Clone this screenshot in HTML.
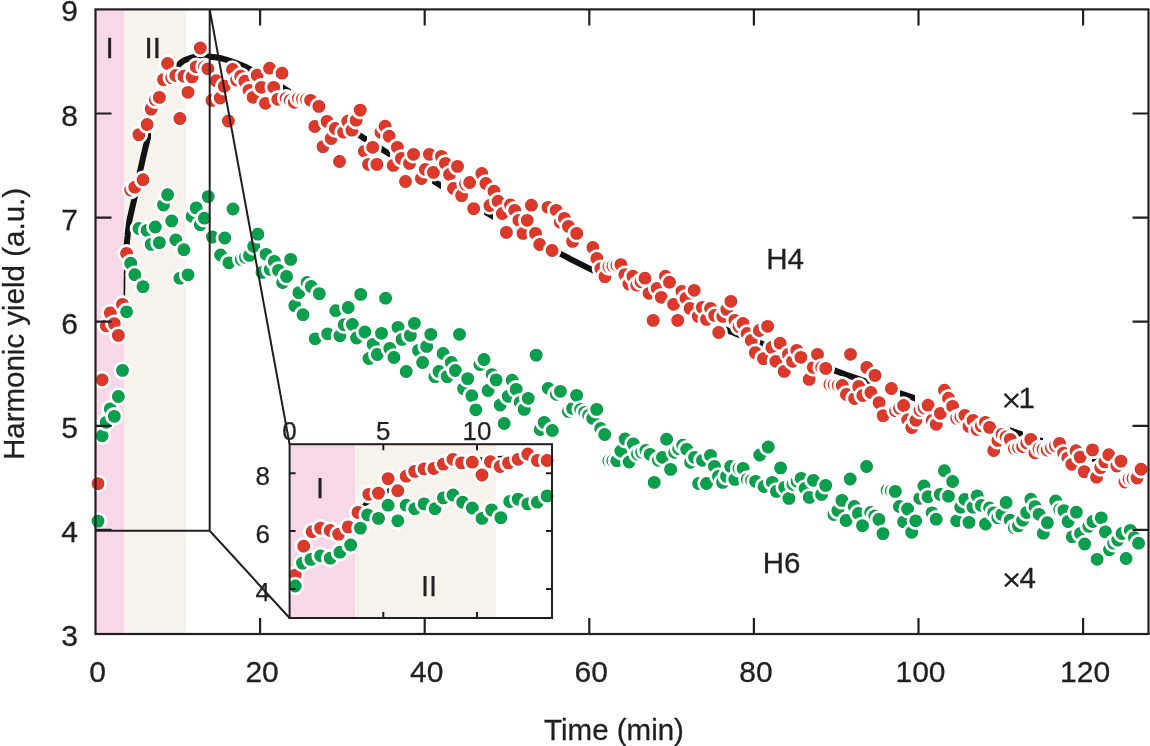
<!DOCTYPE html>
<html><head><meta charset="utf-8"><style>
html,body{margin:0;padding:0;background:#fff;overflow:hidden;}
svg{display:block;will-change:transform;}
</style></head><body>
<svg width="1150" height="746" viewBox="0 0 1150 746">
<rect x="95.5" y="9.4" width="28.799999999999997" height="624.6" fill="#f7d8e8"/><rect x="124.3" y="9.4" width="61.7" height="624.6" fill="#f7f2eb"/><clipPath id="cc"><rect x="123" y="0" width="28" height="245"/><rect x="174" y="0" width="82" height="746"/><rect x="283" y="0" width="8" height="746"/><rect x="357" y="0" width="10" height="746"/><rect x="381" y="0" width="9" height="746"/><rect x="432" y="0" width="9" height="746"/><rect x="484" y="0" width="9" height="746"/><rect x="555" y="0" width="38" height="746"/><rect x="726" y="0" width="14" height="746"/><rect x="759" y="0" width="8" height="746"/><rect x="833" y="0" width="38" height="746"/><rect x="900" y="0" width="15" height="746"/><rect x="1010" y="0" width="13" height="746"/><rect x="1040" y="0" width="3" height="746"/><rect x="1092" y="0" width="6" height="746"/></clipPath><clipPath id="cc2"><rect x="110" y="245" width="20" height="60"/></clipPath><path d="M124.3,302.0 L124.3,300.0 L124.3,297.3 L124.4,294.0 L124.4,290.5 L124.5,287.1 L124.5,284.0 L124.5,281.3 L124.6,278.8 L124.6,276.4 L124.6,273.9 L124.7,271.1 L124.9,268.0 L125.1,264.4 L125.4,260.3 L125.8,256.0 L126.1,251.6 L126.5,247.3 L126.9,243.3 L127.2,239.5 L127.6,235.8 L127.9,232.3 L128.3,228.7 L128.8,225.2 L129.3,221.6 L129.9,218.1 L130.7,214.6 L131.5,211.2 L132.3,207.7 L133.2,203.9 L134.1,199.9 L135.0,195.6 L135.9,191.0 L136.9,186.3 L137.9,181.4 L138.9,176.3 L140.1,171.0 L141.4,165.3 L142.8,159.0 L144.3,152.6 L145.8,146.3 L147.3,140.5 L148.6,135.5 L149.8,131.6 L150.8,128.7 L151.7,126.2 L152.7,123.8 L153.8,121.2 L155.2,117.8 L156.8,113.7 L158.6,109.1 L160.6,104.1 L162.6,99.1 L164.6,94.2 L166.6,89.6 L168.5,85.1 L170.5,80.5 L172.4,75.9 L174.4,71.7 L176.4,67.9 L178.6,64.8 L181.1,62.4 L183.9,60.6 L186.8,59.3 L189.5,58.4 L191.8,57.6 L193.4,57.0 L199.0,56.4 L205.0,56.3 L211.0,56.7 L217.0,57.5 L223.0,58.8 L229.0,60.5 L235.0,62.6 L241.0,65.0 L247.0,67.6 L253.0,70.6 L259.0,73.7 L265.0,77.0 L271.0,80.5 L277.0,84.1 L283.0,87.8 L289.0,91.5 L295.0,95.2 L301.0,98.9 L307.0,102.6 L313.0,106.3 L319.0,110.1 L325.0,113.8 L331.0,117.6 L337.0,121.3 L343.0,125.1 L349.0,128.8 L355.0,132.6 L361.0,136.3 L367.0,140.1 L373.0,143.8 L379.0,147.5 L385.0,151.3 L391.0,155.0 L397.0,158.7 L403.0,162.4 L409.0,166.1 L415.0,169.8 L421.0,173.5 L427.0,177.2 L433.0,180.8 L439.0,184.5 L445.0,188.1 L451.0,191.7 L457.0,195.3 L463.0,198.9 L469.0,202.5 L475.0,206.0 L481.0,209.5 L487.0,213.0 L493.0,216.5 L499.0,220.0 L505.0,223.4 L511.0,226.8 L517.0,230.2 L523.0,233.5 L529.0,236.9 L535.0,240.2 L541.0,243.4 L547.0,246.7 L553.0,249.9 L559.0,253.1 L565.0,256.2 L571.0,259.3 L577.0,262.4 L583.0,265.4 L589.0,268.4 L595.0,271.4 L601.0,274.4 L607.0,277.3 L613.0,280.2 L619.0,283.0 L625.0,285.9 L631.0,288.7 L637.0,291.5 L643.0,294.2 L649.0,296.9 L655.0,299.6 L661.0,302.3 L667.0,304.9 L673.0,307.6 L679.0,310.2 L685.0,312.7 L691.0,315.3 L697.0,317.8 L703.0,320.3 L709.0,322.8 L715.0,325.3 L721.0,327.7 L727.0,330.1 L733.0,332.5 L739.0,334.9 L745.0,337.3 L751.0,339.6 L757.0,341.9 L763.0,344.2 L769.0,346.5 L775.0,348.8 L781.0,351.1 L787.0,353.3 L793.0,355.5 L799.0,357.7 L805.0,359.9 L811.0,362.1 L817.0,364.3 L823.0,366.5 L829.0,368.6 L835.0,370.7 L841.0,372.9 L847.0,375.0 L853.0,377.1 L859.0,379.2 L865.0,381.3 L871.0,383.4 L877.0,385.4 L883.0,387.5 L889.0,389.6 L895.0,391.6 L901.0,393.6 L907.0,395.7 L913.0,397.7 L919.0,399.7 L925.0,401.8 L931.0,403.8 L937.0,405.8 L943.0,407.8 L949.0,409.8 L955.0,411.9 L961.0,413.9 L967.0,415.9 L973.0,417.9 L979.0,419.9 L985.0,421.9 L991.0,423.9 L997.0,425.9 L1003.0,427.9 L1009.0,430.0 L1015.0,432.0 L1021.0,434.0 L1027.0,436.1 L1033.0,438.1 L1039.0,440.1 L1045.0,442.2 L1051.0,444.2 L1057.0,446.3 L1063.0,448.4 L1069.0,450.4 L1075.0,452.5 L1081.0,454.6 L1087.0,456.7 L1093.0,458.8 L1099.0,460.9 L1105.0,463.1 L1111.0,465.2 L1117.0,467.4 L1123.0,469.5 L1129.0,471.7 L1135.0,473.9 L1141.0,476.1 L1146.0,478.0" fill="none" stroke="#111" stroke-width="1.6" clip-path="url(#cc2)"/><path d="M124.3,302.0 L124.3,300.0 L124.3,297.3 L124.4,294.0 L124.4,290.5 L124.5,287.1 L124.5,284.0 L124.5,281.3 L124.6,278.8 L124.6,276.4 L124.6,273.9 L124.7,271.1 L124.9,268.0 L125.1,264.4 L125.4,260.3 L125.8,256.0 L126.1,251.6 L126.5,247.3 L126.9,243.3 L127.2,239.5 L127.6,235.8 L127.9,232.3 L128.3,228.7 L128.8,225.2 L129.3,221.6 L129.9,218.1 L130.7,214.6 L131.5,211.2 L132.3,207.7 L133.2,203.9 L134.1,199.9 L135.0,195.6 L135.9,191.0 L136.9,186.3 L137.9,181.4 L138.9,176.3 L140.1,171.0 L141.4,165.3 L142.8,159.0 L144.3,152.6 L145.8,146.3 L147.3,140.5 L148.6,135.5 L149.8,131.6 L150.8,128.7 L151.7,126.2 L152.7,123.8 L153.8,121.2 L155.2,117.8 L156.8,113.7 L158.6,109.1 L160.6,104.1 L162.6,99.1 L164.6,94.2 L166.6,89.6 L168.5,85.1 L170.5,80.5 L172.4,75.9 L174.4,71.7 L176.4,67.9 L178.6,64.8 L181.1,62.4 L183.9,60.6 L186.8,59.3 L189.5,58.4 L191.8,57.6 L193.4,57.0 L199.0,56.4 L205.0,56.3 L211.0,56.7 L217.0,57.5 L223.0,58.8 L229.0,60.5 L235.0,62.6 L241.0,65.0 L247.0,67.6 L253.0,70.6 L259.0,73.7 L265.0,77.0 L271.0,80.5 L277.0,84.1 L283.0,87.8 L289.0,91.5 L295.0,95.2 L301.0,98.9 L307.0,102.6 L313.0,106.3 L319.0,110.1 L325.0,113.8 L331.0,117.6 L337.0,121.3 L343.0,125.1 L349.0,128.8 L355.0,132.6 L361.0,136.3 L367.0,140.1 L373.0,143.8 L379.0,147.5 L385.0,151.3 L391.0,155.0 L397.0,158.7 L403.0,162.4 L409.0,166.1 L415.0,169.8 L421.0,173.5 L427.0,177.2 L433.0,180.8 L439.0,184.5 L445.0,188.1 L451.0,191.7 L457.0,195.3 L463.0,198.9 L469.0,202.5 L475.0,206.0 L481.0,209.5 L487.0,213.0 L493.0,216.5 L499.0,220.0 L505.0,223.4 L511.0,226.8 L517.0,230.2 L523.0,233.5 L529.0,236.9 L535.0,240.2 L541.0,243.4 L547.0,246.7 L553.0,249.9 L559.0,253.1 L565.0,256.2 L571.0,259.3 L577.0,262.4 L583.0,265.4 L589.0,268.4 L595.0,271.4 L601.0,274.4 L607.0,277.3 L613.0,280.2 L619.0,283.0 L625.0,285.9 L631.0,288.7 L637.0,291.5 L643.0,294.2 L649.0,296.9 L655.0,299.6 L661.0,302.3 L667.0,304.9 L673.0,307.6 L679.0,310.2 L685.0,312.7 L691.0,315.3 L697.0,317.8 L703.0,320.3 L709.0,322.8 L715.0,325.3 L721.0,327.7 L727.0,330.1 L733.0,332.5 L739.0,334.9 L745.0,337.3 L751.0,339.6 L757.0,341.9 L763.0,344.2 L769.0,346.5 L775.0,348.8 L781.0,351.1 L787.0,353.3 L793.0,355.5 L799.0,357.7 L805.0,359.9 L811.0,362.1 L817.0,364.3 L823.0,366.5 L829.0,368.6 L835.0,370.7 L841.0,372.9 L847.0,375.0 L853.0,377.1 L859.0,379.2 L865.0,381.3 L871.0,383.4 L877.0,385.4 L883.0,387.5 L889.0,389.6 L895.0,391.6 L901.0,393.6 L907.0,395.7 L913.0,397.7 L919.0,399.7 L925.0,401.8 L931.0,403.8 L937.0,405.8 L943.0,407.8 L949.0,409.8 L955.0,411.9 L961.0,413.9 L967.0,415.9 L973.0,417.9 L979.0,419.9 L985.0,421.9 L991.0,423.9 L997.0,425.9 L1003.0,427.9 L1009.0,430.0 L1015.0,432.0 L1021.0,434.0 L1027.0,436.1 L1033.0,438.1 L1039.0,440.1 L1045.0,442.2 L1051.0,444.2 L1057.0,446.3 L1063.0,448.4 L1069.0,450.4 L1075.0,452.5 L1081.0,454.6 L1087.0,456.7 L1093.0,458.8 L1099.0,460.9 L1105.0,463.1 L1111.0,465.2 L1117.0,467.4 L1123.0,469.5 L1129.0,471.7 L1135.0,473.9 L1141.0,476.1 L1146.0,478.0" fill="none" stroke="#111" stroke-width="6" stroke-linejoin="round" stroke-linecap="round" clip-path="url(#cc)"/><defs><radialGradient id="gr"><stop offset="0.70" stop-color="#dd392b"/><stop offset="0.82" stop-color="#a82a22"/></radialGradient><radialGradient id="gg"><stop offset="0.70" stop-color="#09a04d"/><stop offset="0.82" stop-color="#077a3c"/></radialGradient></defs><circle cx="98.0" cy="483.6" r="7.8" fill="url(#gr)" stroke="#fff" stroke-width="2.8"/><circle cx="102.1" cy="379.8" r="7.8" fill="url(#gr)" stroke="#fff" stroke-width="2.8"/><circle cx="106.2" cy="325.7" r="7.8" fill="url(#gr)" stroke="#fff" stroke-width="2.8"/><circle cx="110.3" cy="312.9" r="7.8" fill="url(#gr)" stroke="#fff" stroke-width="2.8"/><circle cx="114.3" cy="323.6" r="7.8" fill="url(#gr)" stroke="#fff" stroke-width="2.8"/><circle cx="118.4" cy="335.4" r="7.8" fill="url(#gr)" stroke="#fff" stroke-width="2.8"/><circle cx="122.5" cy="304.3" r="7.8" fill="url(#gr)" stroke="#fff" stroke-width="2.8"/><circle cx="126.6" cy="253.3" r="7.8" fill="url(#gr)" stroke="#fff" stroke-width="2.8"/><circle cx="130.7" cy="190.0" r="7.8" fill="url(#gr)" stroke="#fff" stroke-width="2.8"/><circle cx="134.8" cy="187.2" r="7.8" fill="url(#gr)" stroke="#fff" stroke-width="2.8"/><circle cx="138.9" cy="134.6" r="7.8" fill="url(#gr)" stroke="#fff" stroke-width="2.8"/><circle cx="143.0" cy="179.7" r="7.8" fill="url(#gr)" stroke="#fff" stroke-width="2.8"/><circle cx="147.1" cy="124.5" r="7.8" fill="url(#gr)" stroke="#fff" stroke-width="2.8"/><circle cx="151.2" cy="109.1" r="7.8" fill="url(#gr)" stroke="#fff" stroke-width="2.8"/><circle cx="155.3" cy="99.7" r="7.8" fill="url(#gr)" stroke="#fff" stroke-width="2.8"/><circle cx="159.4" cy="97.4" r="7.8" fill="url(#gr)" stroke="#fff" stroke-width="2.8"/><circle cx="163.5" cy="79.6" r="7.8" fill="url(#gr)" stroke="#fff" stroke-width="2.8"/><circle cx="167.6" cy="63.5" r="7.8" fill="url(#gr)" stroke="#fff" stroke-width="2.8"/><circle cx="171.7" cy="77.6" r="7.8" fill="url(#gr)" stroke="#fff" stroke-width="2.8"/><circle cx="175.8" cy="75.5" r="7.8" fill="url(#gr)" stroke="#fff" stroke-width="2.8"/><circle cx="179.9" cy="118.5" r="7.8" fill="url(#gr)" stroke="#fff" stroke-width="2.8"/><circle cx="183.9" cy="76.2" r="7.8" fill="url(#gr)" stroke="#fff" stroke-width="2.8"/><circle cx="188.0" cy="92.3" r="7.8" fill="url(#gr)" stroke="#fff" stroke-width="2.8"/><circle cx="192.1" cy="76.9" r="7.8" fill="url(#gr)" stroke="#fff" stroke-width="2.8"/><circle cx="196.2" cy="66.8" r="7.8" fill="url(#gr)" stroke="#fff" stroke-width="2.8"/><circle cx="200.3" cy="48.0" r="7.8" fill="url(#gr)" stroke="#fff" stroke-width="2.8"/><circle cx="204.4" cy="66.8" r="7.8" fill="url(#gr)" stroke="#fff" stroke-width="2.8"/><circle cx="207.9" cy="68.8" r="7.8" fill="url(#gr)" stroke="#fff" stroke-width="2.8"/><circle cx="212.0" cy="100.4" r="7.8" fill="url(#gr)" stroke="#fff" stroke-width="2.8"/><circle cx="216.1" cy="80.7" r="7.8" fill="url(#gr)" stroke="#fff" stroke-width="2.8"/><circle cx="220.2" cy="98.0" r="7.8" fill="url(#gr)" stroke="#fff" stroke-width="2.8"/><circle cx="224.3" cy="86.2" r="7.8" fill="url(#gr)" stroke="#fff" stroke-width="2.8"/><circle cx="228.4" cy="121.0" r="7.8" fill="url(#gr)" stroke="#fff" stroke-width="2.8"/><circle cx="232.5" cy="69.5" r="7.8" fill="url(#gr)" stroke="#fff" stroke-width="2.8"/><circle cx="236.6" cy="80.0" r="7.8" fill="url(#gr)" stroke="#fff" stroke-width="2.8"/><circle cx="240.7" cy="76.2" r="7.8" fill="url(#gr)" stroke="#fff" stroke-width="2.8"/><circle cx="244.9" cy="81.2" r="7.8" fill="url(#gr)" stroke="#fff" stroke-width="2.8"/><circle cx="249.0" cy="90.3" r="7.8" fill="url(#gr)" stroke="#fff" stroke-width="2.8"/><circle cx="253.1" cy="97.3" r="7.8" fill="url(#gr)" stroke="#fff" stroke-width="2.8"/><circle cx="257.2" cy="75.2" r="7.8" fill="url(#gr)" stroke="#fff" stroke-width="2.8"/><circle cx="261.4" cy="87.3" r="7.8" fill="url(#gr)" stroke="#fff" stroke-width="2.8"/><circle cx="265.5" cy="103.3" r="7.8" fill="url(#gr)" stroke="#fff" stroke-width="2.8"/><circle cx="269.6" cy="68.2" r="7.8" fill="url(#gr)" stroke="#fff" stroke-width="2.8"/><circle cx="273.7" cy="87.3" r="7.8" fill="url(#gr)" stroke="#fff" stroke-width="2.8"/><circle cx="277.8" cy="99.3" r="7.8" fill="url(#gr)" stroke="#fff" stroke-width="2.8"/><circle cx="282.0" cy="73.2" r="7.8" fill="url(#gr)" stroke="#fff" stroke-width="2.8"/><circle cx="286.1" cy="98.3" r="7.8" fill="url(#gr)" stroke="#fff" stroke-width="2.8"/><circle cx="290.2" cy="100.3" r="7.8" fill="url(#gr)" stroke="#fff" stroke-width="2.8"/><circle cx="294.3" cy="102.3" r="7.8" fill="url(#gr)" stroke="#fff" stroke-width="2.8"/><circle cx="298.4" cy="98.3" r="7.8" fill="url(#gr)" stroke="#fff" stroke-width="2.8"/><circle cx="302.5" cy="99.0" r="7.8" fill="url(#gr)" stroke="#fff" stroke-width="2.8"/><circle cx="306.6" cy="99.6" r="7.8" fill="url(#gr)" stroke="#fff" stroke-width="2.8"/><circle cx="310.6" cy="100.3" r="7.8" fill="url(#gr)" stroke="#fff" stroke-width="2.8"/><circle cx="314.8" cy="126.5" r="7.8" fill="url(#gr)" stroke="#fff" stroke-width="2.8"/><circle cx="318.9" cy="106.4" r="7.8" fill="url(#gr)" stroke="#fff" stroke-width="2.8"/><circle cx="323.0" cy="146.6" r="7.8" fill="url(#gr)" stroke="#fff" stroke-width="2.8"/><circle cx="327.1" cy="121.4" r="7.8" fill="url(#gr)" stroke="#fff" stroke-width="2.8"/><circle cx="331.2" cy="138.5" r="7.8" fill="url(#gr)" stroke="#fff" stroke-width="2.8"/><circle cx="335.3" cy="128.5" r="7.8" fill="url(#gr)" stroke="#fff" stroke-width="2.8"/><circle cx="339.5" cy="161.5" r="7.8" fill="url(#gr)" stroke="#fff" stroke-width="2.8"/><circle cx="343.6" cy="132.2" r="7.8" fill="url(#gr)" stroke="#fff" stroke-width="2.8"/><circle cx="347.8" cy="121.2" r="7.8" fill="url(#gr)" stroke="#fff" stroke-width="2.8"/><circle cx="351.9" cy="130.2" r="7.8" fill="url(#gr)" stroke="#fff" stroke-width="2.8"/><circle cx="356.1" cy="120.2" r="7.8" fill="url(#gr)" stroke="#fff" stroke-width="2.8"/><circle cx="360.2" cy="110.1" r="7.8" fill="url(#gr)" stroke="#fff" stroke-width="2.8"/><circle cx="364.4" cy="151.3" r="7.8" fill="url(#gr)" stroke="#fff" stroke-width="2.8"/><circle cx="368.6" cy="164.4" r="7.8" fill="url(#gr)" stroke="#fff" stroke-width="2.8"/><circle cx="372.7" cy="147.3" r="7.8" fill="url(#gr)" stroke="#fff" stroke-width="2.8"/><circle cx="376.9" cy="164.4" r="7.8" fill="url(#gr)" stroke="#fff" stroke-width="2.8"/><circle cx="381.0" cy="132.2" r="7.8" fill="url(#gr)" stroke="#fff" stroke-width="2.8"/><circle cx="385.1" cy="126.2" r="7.8" fill="url(#gr)" stroke="#fff" stroke-width="2.8"/><circle cx="389.2" cy="136.2" r="7.8" fill="url(#gr)" stroke="#fff" stroke-width="2.8"/><circle cx="393.3" cy="165.4" r="7.8" fill="url(#gr)" stroke="#fff" stroke-width="2.8"/><circle cx="397.4" cy="147.3" r="7.8" fill="url(#gr)" stroke="#fff" stroke-width="2.8"/><circle cx="401.4" cy="158.4" r="7.8" fill="url(#gr)" stroke="#fff" stroke-width="2.8"/><circle cx="405.5" cy="181.5" r="7.8" fill="url(#gr)" stroke="#fff" stroke-width="2.8"/><circle cx="409.5" cy="163.4" r="7.8" fill="url(#gr)" stroke="#fff" stroke-width="2.8"/><circle cx="413.5" cy="154.3" r="7.8" fill="url(#gr)" stroke="#fff" stroke-width="2.8"/><circle cx="421.4" cy="178.5" r="7.8" fill="url(#gr)" stroke="#fff" stroke-width="2.8"/><circle cx="425.4" cy="169.4" r="7.8" fill="url(#gr)" stroke="#fff" stroke-width="2.8"/><circle cx="429.4" cy="154.3" r="7.8" fill="url(#gr)" stroke="#fff" stroke-width="2.8"/><circle cx="433.4" cy="172.4" r="7.8" fill="url(#gr)" stroke="#fff" stroke-width="2.8"/><circle cx="441.4" cy="156.4" r="7.8" fill="url(#gr)" stroke="#fff" stroke-width="2.8"/><circle cx="445.4" cy="163.4" r="7.8" fill="url(#gr)" stroke="#fff" stroke-width="2.8"/><circle cx="449.5" cy="174.5" r="7.8" fill="url(#gr)" stroke="#fff" stroke-width="2.8"/><circle cx="453.5" cy="188.5" r="7.8" fill="url(#gr)" stroke="#fff" stroke-width="2.8"/><circle cx="457.5" cy="166.4" r="7.8" fill="url(#gr)" stroke="#fff" stroke-width="2.8"/><circle cx="461.6" cy="195.6" r="7.8" fill="url(#gr)" stroke="#fff" stroke-width="2.8"/><circle cx="465.6" cy="184.1" r="7.8" fill="url(#gr)" stroke="#fff" stroke-width="2.8"/><circle cx="469.7" cy="182.5" r="7.8" fill="url(#gr)" stroke="#fff" stroke-width="2.8"/><circle cx="473.7" cy="208.6" r="7.8" fill="url(#gr)" stroke="#fff" stroke-width="2.8"/><circle cx="481.8" cy="173.5" r="7.8" fill="url(#gr)" stroke="#fff" stroke-width="2.8"/><circle cx="485.9" cy="183.5" r="7.8" fill="url(#gr)" stroke="#fff" stroke-width="2.8"/><circle cx="489.9" cy="205.5" r="7.8" fill="url(#gr)" stroke="#fff" stroke-width="2.8"/><circle cx="494.0" cy="191.2" r="7.8" fill="url(#gr)" stroke="#fff" stroke-width="2.8"/><circle cx="498.1" cy="201.2" r="7.8" fill="url(#gr)" stroke="#fff" stroke-width="2.8"/><circle cx="502.3" cy="213.5" r="7.8" fill="url(#gr)" stroke="#fff" stroke-width="2.8"/><circle cx="506.4" cy="232.4" r="7.8" fill="url(#gr)" stroke="#fff" stroke-width="2.8"/><circle cx="510.5" cy="205.0" r="7.8" fill="url(#gr)" stroke="#fff" stroke-width="2.8"/><circle cx="514.7" cy="210.3" r="7.8" fill="url(#gr)" stroke="#fff" stroke-width="2.8"/><circle cx="518.9" cy="220.3" r="7.8" fill="url(#gr)" stroke="#fff" stroke-width="2.8"/><circle cx="523.0" cy="233.4" r="7.8" fill="url(#gr)" stroke="#fff" stroke-width="2.8"/><circle cx="527.2" cy="220.3" r="7.8" fill="url(#gr)" stroke="#fff" stroke-width="2.8"/><circle cx="531.4" cy="205.2" r="7.8" fill="url(#gr)" stroke="#fff" stroke-width="2.8"/><circle cx="535.5" cy="233.4" r="7.8" fill="url(#gr)" stroke="#fff" stroke-width="2.8"/><circle cx="539.7" cy="244.5" r="7.8" fill="url(#gr)" stroke="#fff" stroke-width="2.8"/><circle cx="548.0" cy="207.3" r="7.8" fill="url(#gr)" stroke="#fff" stroke-width="2.8"/><circle cx="552.1" cy="250.5" r="7.8" fill="url(#gr)" stroke="#fff" stroke-width="2.8"/><circle cx="556.2" cy="210.3" r="7.8" fill="url(#gr)" stroke="#fff" stroke-width="2.8"/><circle cx="560.3" cy="222.3" r="7.8" fill="url(#gr)" stroke="#fff" stroke-width="2.8"/><circle cx="564.4" cy="218.3" r="7.8" fill="url(#gr)" stroke="#fff" stroke-width="2.8"/><circle cx="568.5" cy="226.4" r="7.8" fill="url(#gr)" stroke="#fff" stroke-width="2.8"/><circle cx="572.6" cy="241.4" r="7.8" fill="url(#gr)" stroke="#fff" stroke-width="2.8"/><circle cx="576.7" cy="233.4" r="7.8" fill="url(#gr)" stroke="#fff" stroke-width="2.8"/><circle cx="592.9" cy="247.5" r="7.8" fill="url(#gr)" stroke="#fff" stroke-width="2.8"/><circle cx="596.9" cy="258.5" r="7.8" fill="url(#gr)" stroke="#fff" stroke-width="2.8"/><circle cx="600.9" cy="268.6" r="7.8" fill="url(#gr)" stroke="#fff" stroke-width="2.8"/><circle cx="604.9" cy="276.6" r="7.8" fill="url(#gr)" stroke="#fff" stroke-width="2.8"/><circle cx="608.9" cy="266.6" r="7.8" fill="url(#gr)" stroke="#fff" stroke-width="2.8"/><circle cx="612.9" cy="265.9" r="7.8" fill="url(#gr)" stroke="#fff" stroke-width="2.8"/><circle cx="616.9" cy="265.3" r="7.8" fill="url(#gr)" stroke="#fff" stroke-width="2.8"/><circle cx="620.9" cy="264.6" r="7.8" fill="url(#gr)" stroke="#fff" stroke-width="2.8"/><circle cx="624.9" cy="274.6" r="7.8" fill="url(#gr)" stroke="#fff" stroke-width="2.8"/><circle cx="628.9" cy="284.0" r="7.8" fill="url(#gr)" stroke="#fff" stroke-width="2.8"/><circle cx="632.9" cy="276.2" r="7.8" fill="url(#gr)" stroke="#fff" stroke-width="2.8"/><circle cx="636.9" cy="285.2" r="7.8" fill="url(#gr)" stroke="#fff" stroke-width="2.8"/><circle cx="641.0" cy="281.7" r="7.8" fill="url(#gr)" stroke="#fff" stroke-width="2.8"/><circle cx="645.0" cy="278.2" r="7.8" fill="url(#gr)" stroke="#fff" stroke-width="2.8"/><circle cx="649.1" cy="293.3" r="7.8" fill="url(#gr)" stroke="#fff" stroke-width="2.8"/><circle cx="653.2" cy="320.4" r="7.8" fill="url(#gr)" stroke="#fff" stroke-width="2.8"/><circle cx="657.2" cy="288.3" r="7.8" fill="url(#gr)" stroke="#fff" stroke-width="2.8"/><circle cx="661.3" cy="297.3" r="7.8" fill="url(#gr)" stroke="#fff" stroke-width="2.8"/><circle cx="665.4" cy="276.2" r="7.8" fill="url(#gr)" stroke="#fff" stroke-width="2.8"/><circle cx="669.5" cy="282.2" r="7.8" fill="url(#gr)" stroke="#fff" stroke-width="2.8"/><circle cx="673.6" cy="304.3" r="7.8" fill="url(#gr)" stroke="#fff" stroke-width="2.8"/><circle cx="677.7" cy="320.4" r="7.8" fill="url(#gr)" stroke="#fff" stroke-width="2.8"/><circle cx="681.9" cy="291.3" r="7.8" fill="url(#gr)" stroke="#fff" stroke-width="2.8"/><circle cx="686.0" cy="298.3" r="7.8" fill="url(#gr)" stroke="#fff" stroke-width="2.8"/><circle cx="690.1" cy="308.4" r="7.8" fill="url(#gr)" stroke="#fff" stroke-width="2.8"/><circle cx="694.2" cy="290.3" r="7.8" fill="url(#gr)" stroke="#fff" stroke-width="2.8"/><circle cx="698.3" cy="316.4" r="7.8" fill="url(#gr)" stroke="#fff" stroke-width="2.8"/><circle cx="702.4" cy="307.4" r="7.8" fill="url(#gr)" stroke="#fff" stroke-width="2.8"/><circle cx="706.5" cy="319.4" r="7.8" fill="url(#gr)" stroke="#fff" stroke-width="2.8"/><circle cx="710.6" cy="308.4" r="7.8" fill="url(#gr)" stroke="#fff" stroke-width="2.8"/><circle cx="714.7" cy="315.4" r="7.8" fill="url(#gr)" stroke="#fff" stroke-width="2.8"/><circle cx="718.7" cy="332.5" r="7.8" fill="url(#gr)" stroke="#fff" stroke-width="2.8"/><circle cx="722.8" cy="316.4" r="7.8" fill="url(#gr)" stroke="#fff" stroke-width="2.8"/><circle cx="726.8" cy="309.4" r="7.8" fill="url(#gr)" stroke="#fff" stroke-width="2.8"/><circle cx="730.9" cy="301.3" r="7.8" fill="url(#gr)" stroke="#fff" stroke-width="2.8"/><circle cx="734.9" cy="320.4" r="7.8" fill="url(#gr)" stroke="#fff" stroke-width="2.8"/><circle cx="739.0" cy="326.5" r="7.8" fill="url(#gr)" stroke="#fff" stroke-width="2.8"/><circle cx="743.0" cy="323.5" r="7.8" fill="url(#gr)" stroke="#fff" stroke-width="2.8"/><circle cx="747.1" cy="333.5" r="7.8" fill="url(#gr)" stroke="#fff" stroke-width="2.8"/><circle cx="751.2" cy="340.5" r="7.8" fill="url(#gr)" stroke="#fff" stroke-width="2.8"/><circle cx="755.3" cy="352.6" r="7.8" fill="url(#gr)" stroke="#fff" stroke-width="2.8"/><circle cx="759.4" cy="330.5" r="7.8" fill="url(#gr)" stroke="#fff" stroke-width="2.8"/><circle cx="763.5" cy="358.6" r="7.8" fill="url(#gr)" stroke="#fff" stroke-width="2.8"/><circle cx="767.6" cy="326.3" r="7.8" fill="url(#gr)" stroke="#fff" stroke-width="2.8"/><circle cx="771.8" cy="347.5" r="7.8" fill="url(#gr)" stroke="#fff" stroke-width="2.8"/><circle cx="775.9" cy="361.3" r="7.8" fill="url(#gr)" stroke="#fff" stroke-width="2.8"/><circle cx="780.1" cy="343.2" r="7.8" fill="url(#gr)" stroke="#fff" stroke-width="2.8"/><circle cx="784.2" cy="371.4" r="7.8" fill="url(#gr)" stroke="#fff" stroke-width="2.8"/><circle cx="788.4" cy="354.3" r="7.8" fill="url(#gr)" stroke="#fff" stroke-width="2.8"/><circle cx="792.6" cy="361.3" r="7.8" fill="url(#gr)" stroke="#fff" stroke-width="2.8"/><circle cx="796.8" cy="350.3" r="7.8" fill="url(#gr)" stroke="#fff" stroke-width="2.8"/><circle cx="800.9" cy="357.3" r="7.8" fill="url(#gr)" stroke="#fff" stroke-width="2.8"/><circle cx="809.2" cy="379.4" r="7.8" fill="url(#gr)" stroke="#fff" stroke-width="2.8"/><circle cx="813.4" cy="367.4" r="7.8" fill="url(#gr)" stroke="#fff" stroke-width="2.8"/><circle cx="817.5" cy="354.3" r="7.8" fill="url(#gr)" stroke="#fff" stroke-width="2.8"/><circle cx="821.7" cy="367.4" r="7.8" fill="url(#gr)" stroke="#fff" stroke-width="2.8"/><circle cx="825.8" cy="368.4" r="7.8" fill="url(#gr)" stroke="#fff" stroke-width="2.8"/><circle cx="829.9" cy="384.5" r="7.8" fill="url(#gr)" stroke="#fff" stroke-width="2.8"/><circle cx="834.1" cy="384.8" r="7.8" fill="url(#gr)" stroke="#fff" stroke-width="2.8"/><circle cx="838.2" cy="385.2" r="7.8" fill="url(#gr)" stroke="#fff" stroke-width="2.8"/><circle cx="842.3" cy="385.5" r="7.8" fill="url(#gr)" stroke="#fff" stroke-width="2.8"/><circle cx="846.4" cy="394.5" r="7.8" fill="url(#gr)" stroke="#fff" stroke-width="2.8"/><circle cx="850.5" cy="354.3" r="7.8" fill="url(#gr)" stroke="#fff" stroke-width="2.8"/><circle cx="854.6" cy="398.5" r="7.8" fill="url(#gr)" stroke="#fff" stroke-width="2.8"/><circle cx="858.7" cy="386.5" r="7.8" fill="url(#gr)" stroke="#fff" stroke-width="2.8"/><circle cx="862.8" cy="395.5" r="7.8" fill="url(#gr)" stroke="#fff" stroke-width="2.8"/><circle cx="866.8" cy="367.4" r="7.8" fill="url(#gr)" stroke="#fff" stroke-width="2.8"/><circle cx="870.9" cy="392.5" r="7.8" fill="url(#gr)" stroke="#fff" stroke-width="2.8"/><circle cx="875.0" cy="375.4" r="7.8" fill="url(#gr)" stroke="#fff" stroke-width="2.8"/><circle cx="879.1" cy="402.6" r="7.8" fill="url(#gr)" stroke="#fff" stroke-width="2.8"/><circle cx="883.2" cy="415.6" r="7.8" fill="url(#gr)" stroke="#fff" stroke-width="2.8"/><circle cx="891.4" cy="388.5" r="7.8" fill="url(#gr)" stroke="#fff" stroke-width="2.8"/><circle cx="895.5" cy="410.6" r="7.8" fill="url(#gr)" stroke="#fff" stroke-width="2.8"/><circle cx="899.5" cy="408.1" r="7.8" fill="url(#gr)" stroke="#fff" stroke-width="2.8"/><circle cx="903.6" cy="405.5" r="7.8" fill="url(#gr)" stroke="#fff" stroke-width="2.8"/><circle cx="907.7" cy="420.0" r="7.8" fill="url(#gr)" stroke="#fff" stroke-width="2.8"/><circle cx="911.8" cy="427.5" r="7.8" fill="url(#gr)" stroke="#fff" stroke-width="2.8"/><circle cx="915.9" cy="420.3" r="7.8" fill="url(#gr)" stroke="#fff" stroke-width="2.8"/><circle cx="920.0" cy="410.3" r="7.8" fill="url(#gr)" stroke="#fff" stroke-width="2.8"/><circle cx="924.0" cy="407.8" r="7.8" fill="url(#gr)" stroke="#fff" stroke-width="2.8"/><circle cx="928.1" cy="405.2" r="7.8" fill="url(#gr)" stroke="#fff" stroke-width="2.8"/><circle cx="932.2" cy="420.3" r="7.8" fill="url(#gr)" stroke="#fff" stroke-width="2.8"/><circle cx="936.3" cy="424.3" r="7.8" fill="url(#gr)" stroke="#fff" stroke-width="2.8"/><circle cx="940.4" cy="413.3" r="7.8" fill="url(#gr)" stroke="#fff" stroke-width="2.8"/><circle cx="944.5" cy="390.2" r="7.8" fill="url(#gr)" stroke="#fff" stroke-width="2.8"/><circle cx="948.5" cy="398.2" r="7.8" fill="url(#gr)" stroke="#fff" stroke-width="2.8"/><circle cx="952.6" cy="406.3" r="7.8" fill="url(#gr)" stroke="#fff" stroke-width="2.8"/><circle cx="956.7" cy="418.3" r="7.8" fill="url(#gr)" stroke="#fff" stroke-width="2.8"/><circle cx="960.8" cy="416.8" r="7.8" fill="url(#gr)" stroke="#fff" stroke-width="2.8"/><circle cx="964.9" cy="415.3" r="7.8" fill="url(#gr)" stroke="#fff" stroke-width="2.8"/><circle cx="969.0" cy="426.4" r="7.8" fill="url(#gr)" stroke="#fff" stroke-width="2.8"/><circle cx="973.1" cy="420.3" r="7.8" fill="url(#gr)" stroke="#fff" stroke-width="2.8"/><circle cx="977.2" cy="429.4" r="7.8" fill="url(#gr)" stroke="#fff" stroke-width="2.8"/><circle cx="981.3" cy="425.9" r="7.8" fill="url(#gr)" stroke="#fff" stroke-width="2.8"/><circle cx="985.5" cy="422.3" r="7.8" fill="url(#gr)" stroke="#fff" stroke-width="2.8"/><circle cx="989.6" cy="427.4" r="7.8" fill="url(#gr)" stroke="#fff" stroke-width="2.8"/><circle cx="993.7" cy="450.5" r="7.8" fill="url(#gr)" stroke="#fff" stroke-width="2.8"/><circle cx="997.9" cy="440.4" r="7.8" fill="url(#gr)" stroke="#fff" stroke-width="2.8"/><circle cx="1002.0" cy="434.4" r="7.8" fill="url(#gr)" stroke="#fff" stroke-width="2.8"/><circle cx="1006.1" cy="436.9" r="7.8" fill="url(#gr)" stroke="#fff" stroke-width="2.8"/><circle cx="1010.3" cy="439.4" r="7.8" fill="url(#gr)" stroke="#fff" stroke-width="2.8"/><circle cx="1014.4" cy="448.5" r="7.8" fill="url(#gr)" stroke="#fff" stroke-width="2.8"/><circle cx="1018.5" cy="447.5" r="7.8" fill="url(#gr)" stroke="#fff" stroke-width="2.8"/><circle cx="1022.6" cy="446.5" r="7.8" fill="url(#gr)" stroke="#fff" stroke-width="2.8"/><circle cx="1026.7" cy="442.9" r="7.8" fill="url(#gr)" stroke="#fff" stroke-width="2.8"/><circle cx="1030.8" cy="439.4" r="7.8" fill="url(#gr)" stroke="#fff" stroke-width="2.8"/><circle cx="1034.9" cy="452.8" r="7.8" fill="url(#gr)" stroke="#fff" stroke-width="2.8"/><circle cx="1039.0" cy="448.7" r="7.8" fill="url(#gr)" stroke="#fff" stroke-width="2.8"/><circle cx="1043.1" cy="449.4" r="7.8" fill="url(#gr)" stroke="#fff" stroke-width="2.8"/><circle cx="1047.2" cy="450.0" r="7.8" fill="url(#gr)" stroke="#fff" stroke-width="2.8"/><circle cx="1051.3" cy="447.8" r="7.8" fill="url(#gr)" stroke="#fff" stroke-width="2.8"/><circle cx="1055.4" cy="445.6" r="7.8" fill="url(#gr)" stroke="#fff" stroke-width="2.8"/><circle cx="1059.5" cy="443.4" r="7.8" fill="url(#gr)" stroke="#fff" stroke-width="2.8"/><circle cx="1063.6" cy="453.1" r="7.8" fill="url(#gr)" stroke="#fff" stroke-width="2.8"/><circle cx="1067.8" cy="457.9" r="7.8" fill="url(#gr)" stroke="#fff" stroke-width="2.8"/><circle cx="1071.9" cy="464.3" r="7.8" fill="url(#gr)" stroke="#fff" stroke-width="2.8"/><circle cx="1076.0" cy="450.7" r="7.8" fill="url(#gr)" stroke="#fff" stroke-width="2.8"/><circle cx="1080.2" cy="457.1" r="7.8" fill="url(#gr)" stroke="#fff" stroke-width="2.8"/><circle cx="1084.3" cy="471.6" r="7.8" fill="url(#gr)" stroke="#fff" stroke-width="2.8"/><circle cx="1092.5" cy="449.9" r="7.8" fill="url(#gr)" stroke="#fff" stroke-width="2.8"/><circle cx="1096.6" cy="477.2" r="7.8" fill="url(#gr)" stroke="#fff" stroke-width="2.8"/><circle cx="1100.7" cy="467.6" r="7.8" fill="url(#gr)" stroke="#fff" stroke-width="2.8"/><circle cx="1104.8" cy="461.9" r="7.8" fill="url(#gr)" stroke="#fff" stroke-width="2.8"/><circle cx="1108.8" cy="454.7" r="7.8" fill="url(#gr)" stroke="#fff" stroke-width="2.8"/><circle cx="1116.9" cy="466.0" r="7.8" fill="url(#gr)" stroke="#fff" stroke-width="2.8"/><circle cx="1121.0" cy="461.1" r="7.8" fill="url(#gr)" stroke="#fff" stroke-width="2.8"/><circle cx="1125.0" cy="482.0" r="7.8" fill="url(#gr)" stroke="#fff" stroke-width="2.8"/><circle cx="1129.0" cy="478.8" r="7.8" fill="url(#gr)" stroke="#fff" stroke-width="2.8"/><circle cx="1133.0" cy="478.4" r="7.8" fill="url(#gr)" stroke="#fff" stroke-width="2.8"/><circle cx="1137.1" cy="478.0" r="7.8" fill="url(#gr)" stroke="#fff" stroke-width="2.8"/><circle cx="1141.1" cy="469.2" r="7.8" fill="url(#gr)" stroke="#fff" stroke-width="2.8"/><circle cx="98.0" cy="521.1" r="7.8" fill="url(#gg)" stroke="#fff" stroke-width="2.8"/><circle cx="102.1" cy="435.7" r="7.8" fill="url(#gg)" stroke="#fff" stroke-width="2.8"/><circle cx="106.2" cy="422.3" r="7.8" fill="url(#gg)" stroke="#fff" stroke-width="2.8"/><circle cx="110.3" cy="408.9" r="7.8" fill="url(#gg)" stroke="#fff" stroke-width="2.8"/><circle cx="114.3" cy="416.3" r="7.8" fill="url(#gg)" stroke="#fff" stroke-width="2.8"/><circle cx="118.4" cy="396.5" r="7.8" fill="url(#gg)" stroke="#fff" stroke-width="2.8"/><circle cx="122.5" cy="370.4" r="7.8" fill="url(#gg)" stroke="#fff" stroke-width="2.8"/><circle cx="126.6" cy="311.8" r="7.8" fill="url(#gg)" stroke="#fff" stroke-width="2.8"/><circle cx="130.7" cy="263.2" r="7.8" fill="url(#gg)" stroke="#fff" stroke-width="2.8"/><circle cx="134.8" cy="274.7" r="7.8" fill="url(#gg)" stroke="#fff" stroke-width="2.8"/><circle cx="138.9" cy="228.5" r="7.8" fill="url(#gg)" stroke="#fff" stroke-width="2.8"/><circle cx="143.0" cy="286.6" r="7.8" fill="url(#gg)" stroke="#fff" stroke-width="2.8"/><circle cx="147.1" cy="230.4" r="7.8" fill="url(#gg)" stroke="#fff" stroke-width="2.8"/><circle cx="151.2" cy="244.4" r="7.8" fill="url(#gg)" stroke="#fff" stroke-width="2.8"/><circle cx="155.3" cy="227.0" r="7.8" fill="url(#gg)" stroke="#fff" stroke-width="2.8"/><circle cx="159.4" cy="242.6" r="7.8" fill="url(#gg)" stroke="#fff" stroke-width="2.8"/><circle cx="163.5" cy="205.0" r="7.8" fill="url(#gg)" stroke="#fff" stroke-width="2.8"/><circle cx="167.6" cy="194.7" r="7.8" fill="url(#gg)" stroke="#fff" stroke-width="2.8"/><circle cx="171.7" cy="221.0" r="7.8" fill="url(#gg)" stroke="#fff" stroke-width="2.8"/><circle cx="175.8" cy="239.8" r="7.8" fill="url(#gg)" stroke="#fff" stroke-width="2.8"/><circle cx="179.9" cy="278.2" r="7.8" fill="url(#gg)" stroke="#fff" stroke-width="2.8"/><circle cx="183.9" cy="249.7" r="7.8" fill="url(#gg)" stroke="#fff" stroke-width="2.8"/><circle cx="188.0" cy="274.8" r="7.8" fill="url(#gg)" stroke="#fff" stroke-width="2.8"/><circle cx="192.1" cy="216.3" r="7.8" fill="url(#gg)" stroke="#fff" stroke-width="2.8"/><circle cx="196.2" cy="207.9" r="7.8" fill="url(#gg)" stroke="#fff" stroke-width="2.8"/><circle cx="200.3" cy="224.7" r="7.8" fill="url(#gg)" stroke="#fff" stroke-width="2.8"/><circle cx="204.4" cy="218.2" r="7.8" fill="url(#gg)" stroke="#fff" stroke-width="2.8"/><circle cx="208.2" cy="196.6" r="7.8" fill="url(#gg)" stroke="#fff" stroke-width="2.8"/><circle cx="212.4" cy="237.0" r="7.8" fill="url(#gg)" stroke="#fff" stroke-width="2.8"/><circle cx="220.6" cy="255.0" r="7.8" fill="url(#gg)" stroke="#fff" stroke-width="2.8"/><circle cx="224.8" cy="238.0" r="7.8" fill="url(#gg)" stroke="#fff" stroke-width="2.8"/><circle cx="228.9" cy="262.8" r="7.8" fill="url(#gg)" stroke="#fff" stroke-width="2.8"/><circle cx="233.0" cy="209.0" r="7.8" fill="url(#gg)" stroke="#fff" stroke-width="2.8"/><circle cx="241.3" cy="259.4" r="7.8" fill="url(#gg)" stroke="#fff" stroke-width="2.8"/><circle cx="245.5" cy="257.4" r="7.8" fill="url(#gg)" stroke="#fff" stroke-width="2.8"/><circle cx="249.6" cy="255.4" r="7.8" fill="url(#gg)" stroke="#fff" stroke-width="2.8"/><circle cx="253.7" cy="246.3" r="7.8" fill="url(#gg)" stroke="#fff" stroke-width="2.8"/><circle cx="257.9" cy="234.2" r="7.8" fill="url(#gg)" stroke="#fff" stroke-width="2.8"/><circle cx="262.0" cy="272.4" r="7.8" fill="url(#gg)" stroke="#fff" stroke-width="2.8"/><circle cx="266.1" cy="254.3" r="7.8" fill="url(#gg)" stroke="#fff" stroke-width="2.8"/><circle cx="270.3" cy="269.4" r="7.8" fill="url(#gg)" stroke="#fff" stroke-width="2.8"/><circle cx="274.4" cy="261.4" r="7.8" fill="url(#gg)" stroke="#fff" stroke-width="2.8"/><circle cx="278.5" cy="270.4" r="7.8" fill="url(#gg)" stroke="#fff" stroke-width="2.8"/><circle cx="282.6" cy="282.5" r="7.8" fill="url(#gg)" stroke="#fff" stroke-width="2.8"/><circle cx="286.6" cy="276.5" r="7.8" fill="url(#gg)" stroke="#fff" stroke-width="2.8"/><circle cx="290.7" cy="259.4" r="7.8" fill="url(#gg)" stroke="#fff" stroke-width="2.8"/><circle cx="294.8" cy="305.6" r="7.8" fill="url(#gg)" stroke="#fff" stroke-width="2.8"/><circle cx="298.9" cy="292.6" r="7.8" fill="url(#gg)" stroke="#fff" stroke-width="2.8"/><circle cx="303.0" cy="314.7" r="7.8" fill="url(#gg)" stroke="#fff" stroke-width="2.8"/><circle cx="307.1" cy="282.5" r="7.8" fill="url(#gg)" stroke="#fff" stroke-width="2.8"/><circle cx="311.2" cy="286.5" r="7.8" fill="url(#gg)" stroke="#fff" stroke-width="2.8"/><circle cx="315.2" cy="338.8" r="7.8" fill="url(#gg)" stroke="#fff" stroke-width="2.8"/><circle cx="319.3" cy="293.6" r="7.8" fill="url(#gg)" stroke="#fff" stroke-width="2.8"/><circle cx="327.6" cy="333.8" r="7.8" fill="url(#gg)" stroke="#fff" stroke-width="2.8"/><circle cx="335.8" cy="310.7" r="7.8" fill="url(#gg)" stroke="#fff" stroke-width="2.8"/><circle cx="339.9" cy="335.8" r="7.8" fill="url(#gg)" stroke="#fff" stroke-width="2.8"/><circle cx="344.1" cy="324.7" r="7.8" fill="url(#gg)" stroke="#fff" stroke-width="2.8"/><circle cx="348.2" cy="307.5" r="7.8" fill="url(#gg)" stroke="#fff" stroke-width="2.8"/><circle cx="352.4" cy="324.5" r="7.8" fill="url(#gg)" stroke="#fff" stroke-width="2.8"/><circle cx="356.6" cy="338.0" r="7.8" fill="url(#gg)" stroke="#fff" stroke-width="2.8"/><circle cx="360.7" cy="294.4" r="7.8" fill="url(#gg)" stroke="#fff" stroke-width="2.8"/><circle cx="364.9" cy="332.0" r="7.8" fill="url(#gg)" stroke="#fff" stroke-width="2.8"/><circle cx="369.0" cy="358.5" r="7.8" fill="url(#gg)" stroke="#fff" stroke-width="2.8"/><circle cx="373.2" cy="344.4" r="7.8" fill="url(#gg)" stroke="#fff" stroke-width="2.8"/><circle cx="377.3" cy="354.5" r="7.8" fill="url(#gg)" stroke="#fff" stroke-width="2.8"/><circle cx="381.5" cy="333.3" r="7.8" fill="url(#gg)" stroke="#fff" stroke-width="2.8"/><circle cx="385.6" cy="298.2" r="7.8" fill="url(#gg)" stroke="#fff" stroke-width="2.8"/><circle cx="389.8" cy="348.4" r="7.8" fill="url(#gg)" stroke="#fff" stroke-width="2.8"/><circle cx="393.9" cy="357.5" r="7.8" fill="url(#gg)" stroke="#fff" stroke-width="2.8"/><circle cx="398.0" cy="327.3" r="7.8" fill="url(#gg)" stroke="#fff" stroke-width="2.8"/><circle cx="402.1" cy="339.4" r="7.8" fill="url(#gg)" stroke="#fff" stroke-width="2.8"/><circle cx="406.2" cy="371.5" r="7.8" fill="url(#gg)" stroke="#fff" stroke-width="2.8"/><circle cx="410.3" cy="335.4" r="7.8" fill="url(#gg)" stroke="#fff" stroke-width="2.8"/><circle cx="414.4" cy="323.3" r="7.8" fill="url(#gg)" stroke="#fff" stroke-width="2.8"/><circle cx="418.5" cy="350.4" r="7.8" fill="url(#gg)" stroke="#fff" stroke-width="2.8"/><circle cx="422.6" cy="362.5" r="7.8" fill="url(#gg)" stroke="#fff" stroke-width="2.8"/><circle cx="426.7" cy="346.4" r="7.8" fill="url(#gg)" stroke="#fff" stroke-width="2.8"/><circle cx="430.8" cy="334.3" r="7.8" fill="url(#gg)" stroke="#fff" stroke-width="2.8"/><circle cx="434.9" cy="376.6" r="7.8" fill="url(#gg)" stroke="#fff" stroke-width="2.8"/><circle cx="439.0" cy="371.5" r="7.8" fill="url(#gg)" stroke="#fff" stroke-width="2.8"/><circle cx="443.1" cy="353.5" r="7.8" fill="url(#gg)" stroke="#fff" stroke-width="2.8"/><circle cx="447.2" cy="376.6" r="7.8" fill="url(#gg)" stroke="#fff" stroke-width="2.8"/><circle cx="451.3" cy="362.5" r="7.8" fill="url(#gg)" stroke="#fff" stroke-width="2.8"/><circle cx="455.4" cy="370.5" r="7.8" fill="url(#gg)" stroke="#fff" stroke-width="2.8"/><circle cx="459.5" cy="334.3" r="7.8" fill="url(#gg)" stroke="#fff" stroke-width="2.8"/><circle cx="463.6" cy="388.6" r="7.8" fill="url(#gg)" stroke="#fff" stroke-width="2.8"/><circle cx="467.7" cy="378.6" r="7.8" fill="url(#gg)" stroke="#fff" stroke-width="2.8"/><circle cx="471.8" cy="395.7" r="7.8" fill="url(#gg)" stroke="#fff" stroke-width="2.8"/><circle cx="475.8" cy="409.8" r="7.8" fill="url(#gg)" stroke="#fff" stroke-width="2.8"/><circle cx="479.9" cy="364.5" r="7.8" fill="url(#gg)" stroke="#fff" stroke-width="2.8"/><circle cx="484.0" cy="359.5" r="7.8" fill="url(#gg)" stroke="#fff" stroke-width="2.8"/><circle cx="488.1" cy="390.5" r="7.8" fill="url(#gg)" stroke="#fff" stroke-width="2.8"/><circle cx="492.1" cy="374.6" r="7.8" fill="url(#gg)" stroke="#fff" stroke-width="2.8"/><circle cx="496.1" cy="379.9" r="7.8" fill="url(#gg)" stroke="#fff" stroke-width="2.8"/><circle cx="500.2" cy="405.0" r="7.8" fill="url(#gg)" stroke="#fff" stroke-width="2.8"/><circle cx="504.2" cy="423.5" r="7.8" fill="url(#gg)" stroke="#fff" stroke-width="2.8"/><circle cx="508.2" cy="396.3" r="7.8" fill="url(#gg)" stroke="#fff" stroke-width="2.8"/><circle cx="512.2" cy="380.2" r="7.8" fill="url(#gg)" stroke="#fff" stroke-width="2.8"/><circle cx="516.2" cy="389.3" r="7.8" fill="url(#gg)" stroke="#fff" stroke-width="2.8"/><circle cx="520.2" cy="402.3" r="7.8" fill="url(#gg)" stroke="#fff" stroke-width="2.8"/><circle cx="524.2" cy="409.4" r="7.8" fill="url(#gg)" stroke="#fff" stroke-width="2.8"/><circle cx="528.2" cy="398.3" r="7.8" fill="url(#gg)" stroke="#fff" stroke-width="2.8"/><circle cx="536.2" cy="355.1" r="7.8" fill="url(#gg)" stroke="#fff" stroke-width="2.8"/><circle cx="540.2" cy="429.5" r="7.8" fill="url(#gg)" stroke="#fff" stroke-width="2.8"/><circle cx="544.2" cy="422.4" r="7.8" fill="url(#gg)" stroke="#fff" stroke-width="2.8"/><circle cx="548.3" cy="388.3" r="7.8" fill="url(#gg)" stroke="#fff" stroke-width="2.8"/><circle cx="552.3" cy="430.5" r="7.8" fill="url(#gg)" stroke="#fff" stroke-width="2.8"/><circle cx="556.4" cy="394.3" r="7.8" fill="url(#gg)" stroke="#fff" stroke-width="2.8"/><circle cx="560.4" cy="391.3" r="7.8" fill="url(#gg)" stroke="#fff" stroke-width="2.8"/><circle cx="568.5" cy="411.4" r="7.8" fill="url(#gg)" stroke="#fff" stroke-width="2.8"/><circle cx="572.6" cy="408.4" r="7.8" fill="url(#gg)" stroke="#fff" stroke-width="2.8"/><circle cx="576.6" cy="395.3" r="7.8" fill="url(#gg)" stroke="#fff" stroke-width="2.8"/><circle cx="580.7" cy="409.4" r="7.8" fill="url(#gg)" stroke="#fff" stroke-width="2.8"/><circle cx="584.7" cy="412.4" r="7.8" fill="url(#gg)" stroke="#fff" stroke-width="2.8"/><circle cx="588.7" cy="415.4" r="7.8" fill="url(#gg)" stroke="#fff" stroke-width="2.8"/><circle cx="592.7" cy="418.4" r="7.8" fill="url(#gg)" stroke="#fff" stroke-width="2.8"/><circle cx="596.7" cy="409.4" r="7.8" fill="url(#gg)" stroke="#fff" stroke-width="2.8"/><circle cx="600.7" cy="428.5" r="7.8" fill="url(#gg)" stroke="#fff" stroke-width="2.8"/><circle cx="604.7" cy="434.5" r="7.8" fill="url(#gg)" stroke="#fff" stroke-width="2.8"/><circle cx="608.8" cy="460.7" r="7.8" fill="url(#gg)" stroke="#fff" stroke-width="2.8"/><circle cx="612.8" cy="460.7" r="7.8" fill="url(#gg)" stroke="#fff" stroke-width="2.8"/><circle cx="616.9" cy="460.7" r="7.8" fill="url(#gg)" stroke="#fff" stroke-width="2.8"/><circle cx="620.9" cy="451.0" r="7.8" fill="url(#gg)" stroke="#fff" stroke-width="2.8"/><circle cx="625.1" cy="439.0" r="7.8" fill="url(#gg)" stroke="#fff" stroke-width="2.8"/><circle cx="629.2" cy="462.0" r="7.8" fill="url(#gg)" stroke="#fff" stroke-width="2.8"/><circle cx="633.4" cy="444.0" r="7.8" fill="url(#gg)" stroke="#fff" stroke-width="2.8"/><circle cx="637.5" cy="454.0" r="7.8" fill="url(#gg)" stroke="#fff" stroke-width="2.8"/><circle cx="641.7" cy="452.1" r="7.8" fill="url(#gg)" stroke="#fff" stroke-width="2.8"/><circle cx="645.9" cy="450.3" r="7.8" fill="url(#gg)" stroke="#fff" stroke-width="2.8"/><circle cx="650.1" cy="454.3" r="7.8" fill="url(#gg)" stroke="#fff" stroke-width="2.8"/><circle cx="654.2" cy="482.4" r="7.8" fill="url(#gg)" stroke="#fff" stroke-width="2.8"/><circle cx="658.4" cy="460.3" r="7.8" fill="url(#gg)" stroke="#fff" stroke-width="2.8"/><circle cx="662.5" cy="457.3" r="7.8" fill="url(#gg)" stroke="#fff" stroke-width="2.8"/><circle cx="666.6" cy="439.2" r="7.8" fill="url(#gg)" stroke="#fff" stroke-width="2.8"/><circle cx="670.6" cy="469.4" r="7.8" fill="url(#gg)" stroke="#fff" stroke-width="2.8"/><circle cx="674.7" cy="452.3" r="7.8" fill="url(#gg)" stroke="#fff" stroke-width="2.8"/><circle cx="678.7" cy="448.8" r="7.8" fill="url(#gg)" stroke="#fff" stroke-width="2.8"/><circle cx="682.7" cy="445.2" r="7.8" fill="url(#gg)" stroke="#fff" stroke-width="2.8"/><circle cx="686.7" cy="449.3" r="7.8" fill="url(#gg)" stroke="#fff" stroke-width="2.8"/><circle cx="690.6" cy="462.3" r="7.8" fill="url(#gg)" stroke="#fff" stroke-width="2.8"/><circle cx="694.6" cy="457.3" r="7.8" fill="url(#gg)" stroke="#fff" stroke-width="2.8"/><circle cx="698.6" cy="483.5" r="7.8" fill="url(#gg)" stroke="#fff" stroke-width="2.8"/><circle cx="702.5" cy="460.3" r="7.8" fill="url(#gg)" stroke="#fff" stroke-width="2.8"/><circle cx="706.5" cy="483.5" r="7.8" fill="url(#gg)" stroke="#fff" stroke-width="2.8"/><circle cx="710.5" cy="455.3" r="7.8" fill="url(#gg)" stroke="#fff" stroke-width="2.8"/><circle cx="714.5" cy="466.4" r="7.8" fill="url(#gg)" stroke="#fff" stroke-width="2.8"/><circle cx="718.5" cy="476.4" r="7.8" fill="url(#gg)" stroke="#fff" stroke-width="2.8"/><circle cx="722.6" cy="482.4" r="7.8" fill="url(#gg)" stroke="#fff" stroke-width="2.8"/><circle cx="726.6" cy="476.4" r="7.8" fill="url(#gg)" stroke="#fff" stroke-width="2.8"/><circle cx="730.7" cy="466.4" r="7.8" fill="url(#gg)" stroke="#fff" stroke-width="2.8"/><circle cx="734.8" cy="479.4" r="7.8" fill="url(#gg)" stroke="#fff" stroke-width="2.8"/><circle cx="739.0" cy="468.4" r="7.8" fill="url(#gg)" stroke="#fff" stroke-width="2.8"/><circle cx="743.1" cy="468.4" r="7.8" fill="url(#gg)" stroke="#fff" stroke-width="2.8"/><circle cx="747.3" cy="479.4" r="7.8" fill="url(#gg)" stroke="#fff" stroke-width="2.8"/><circle cx="751.5" cy="480.4" r="7.8" fill="url(#gg)" stroke="#fff" stroke-width="2.8"/><circle cx="755.6" cy="481.4" r="7.8" fill="url(#gg)" stroke="#fff" stroke-width="2.8"/><circle cx="759.8" cy="455.0" r="7.8" fill="url(#gg)" stroke="#fff" stroke-width="2.8"/><circle cx="764.0" cy="486.5" r="7.8" fill="url(#gg)" stroke="#fff" stroke-width="2.8"/><circle cx="768.2" cy="447.0" r="7.8" fill="url(#gg)" stroke="#fff" stroke-width="2.8"/><circle cx="772.3" cy="482.3" r="7.8" fill="url(#gg)" stroke="#fff" stroke-width="2.8"/><circle cx="776.5" cy="491.4" r="7.8" fill="url(#gg)" stroke="#fff" stroke-width="2.8"/><circle cx="780.6" cy="467.9" r="7.8" fill="url(#gg)" stroke="#fff" stroke-width="2.8"/><circle cx="784.7" cy="487.4" r="7.8" fill="url(#gg)" stroke="#fff" stroke-width="2.8"/><circle cx="788.9" cy="498.4" r="7.8" fill="url(#gg)" stroke="#fff" stroke-width="2.8"/><circle cx="793.0" cy="484.3" r="7.8" fill="url(#gg)" stroke="#fff" stroke-width="2.8"/><circle cx="797.1" cy="481.3" r="7.8" fill="url(#gg)" stroke="#fff" stroke-width="2.8"/><circle cx="801.2" cy="478.3" r="7.8" fill="url(#gg)" stroke="#fff" stroke-width="2.8"/><circle cx="805.2" cy="488.4" r="7.8" fill="url(#gg)" stroke="#fff" stroke-width="2.8"/><circle cx="809.3" cy="497.4" r="7.8" fill="url(#gg)" stroke="#fff" stroke-width="2.8"/><circle cx="813.4" cy="480.3" r="7.8" fill="url(#gg)" stroke="#fff" stroke-width="2.8"/><circle cx="821.6" cy="494.4" r="7.8" fill="url(#gg)" stroke="#fff" stroke-width="2.8"/><circle cx="825.7" cy="485.4" r="7.8" fill="url(#gg)" stroke="#fff" stroke-width="2.8"/><circle cx="833.9" cy="514.5" r="7.8" fill="url(#gg)" stroke="#fff" stroke-width="2.8"/><circle cx="837.9" cy="510.5" r="7.8" fill="url(#gg)" stroke="#fff" stroke-width="2.8"/><circle cx="842.0" cy="500.4" r="7.8" fill="url(#gg)" stroke="#fff" stroke-width="2.8"/><circle cx="846.1" cy="520.5" r="7.8" fill="url(#gg)" stroke="#fff" stroke-width="2.8"/><circle cx="850.2" cy="479.0" r="7.8" fill="url(#gg)" stroke="#fff" stroke-width="2.8"/><circle cx="854.3" cy="506.5" r="7.8" fill="url(#gg)" stroke="#fff" stroke-width="2.8"/><circle cx="858.4" cy="513.5" r="7.8" fill="url(#gg)" stroke="#fff" stroke-width="2.8"/><circle cx="862.5" cy="525.6" r="7.8" fill="url(#gg)" stroke="#fff" stroke-width="2.8"/><circle cx="866.6" cy="466.5" r="7.8" fill="url(#gg)" stroke="#fff" stroke-width="2.8"/><circle cx="870.7" cy="512.5" r="7.8" fill="url(#gg)" stroke="#fff" stroke-width="2.8"/><circle cx="874.8" cy="516.0" r="7.8" fill="url(#gg)" stroke="#fff" stroke-width="2.8"/><circle cx="878.9" cy="519.5" r="7.8" fill="url(#gg)" stroke="#fff" stroke-width="2.8"/><circle cx="883.0" cy="533.6" r="7.8" fill="url(#gg)" stroke="#fff" stroke-width="2.8"/><circle cx="887.1" cy="490.4" r="7.8" fill="url(#gg)" stroke="#fff" stroke-width="2.8"/><circle cx="891.2" cy="490.9" r="7.8" fill="url(#gg)" stroke="#fff" stroke-width="2.8"/><circle cx="895.3" cy="491.4" r="7.8" fill="url(#gg)" stroke="#fff" stroke-width="2.8"/><circle cx="899.4" cy="506.5" r="7.8" fill="url(#gg)" stroke="#fff" stroke-width="2.8"/><circle cx="903.5" cy="521.8" r="7.8" fill="url(#gg)" stroke="#fff" stroke-width="2.8"/><circle cx="907.6" cy="509.0" r="7.8" fill="url(#gg)" stroke="#fff" stroke-width="2.8"/><circle cx="911.7" cy="532.3" r="7.8" fill="url(#gg)" stroke="#fff" stroke-width="2.8"/><circle cx="915.7" cy="520.8" r="7.8" fill="url(#gg)" stroke="#fff" stroke-width="2.8"/><circle cx="919.8" cy="498.3" r="7.8" fill="url(#gg)" stroke="#fff" stroke-width="2.8"/><circle cx="923.9" cy="486.0" r="7.8" fill="url(#gg)" stroke="#fff" stroke-width="2.8"/><circle cx="928.0" cy="496.7" r="7.8" fill="url(#gg)" stroke="#fff" stroke-width="2.8"/><circle cx="932.1" cy="512.8" r="7.8" fill="url(#gg)" stroke="#fff" stroke-width="2.8"/><circle cx="936.2" cy="519.2" r="7.8" fill="url(#gg)" stroke="#fff" stroke-width="2.8"/><circle cx="940.3" cy="494.4" r="7.8" fill="url(#gg)" stroke="#fff" stroke-width="2.8"/><circle cx="944.4" cy="470.7" r="7.8" fill="url(#gg)" stroke="#fff" stroke-width="2.8"/><circle cx="948.5" cy="496.2" r="7.8" fill="url(#gg)" stroke="#fff" stroke-width="2.8"/><circle cx="952.6" cy="481.5" r="7.8" fill="url(#gg)" stroke="#fff" stroke-width="2.8"/><circle cx="956.7" cy="520.8" r="7.8" fill="url(#gg)" stroke="#fff" stroke-width="2.8"/><circle cx="960.8" cy="507.1" r="7.8" fill="url(#gg)" stroke="#fff" stroke-width="2.8"/><circle cx="964.9" cy="499.3" r="7.8" fill="url(#gg)" stroke="#fff" stroke-width="2.8"/><circle cx="969.0" cy="522.4" r="7.8" fill="url(#gg)" stroke="#fff" stroke-width="2.8"/><circle cx="973.1" cy="507.1" r="7.8" fill="url(#gg)" stroke="#fff" stroke-width="2.8"/><circle cx="977.2" cy="495.8" r="7.8" fill="url(#gg)" stroke="#fff" stroke-width="2.8"/><circle cx="981.4" cy="505.5" r="7.8" fill="url(#gg)" stroke="#fff" stroke-width="2.8"/><circle cx="985.5" cy="524.0" r="7.8" fill="url(#gg)" stroke="#fff" stroke-width="2.8"/><circle cx="989.6" cy="507.9" r="7.8" fill="url(#gg)" stroke="#fff" stroke-width="2.8"/><circle cx="993.7" cy="512.8" r="7.8" fill="url(#gg)" stroke="#fff" stroke-width="2.8"/><circle cx="997.8" cy="517.6" r="7.8" fill="url(#gg)" stroke="#fff" stroke-width="2.8"/><circle cx="1001.9" cy="514.4" r="7.8" fill="url(#gg)" stroke="#fff" stroke-width="2.8"/><circle cx="1006.1" cy="502.5" r="7.8" fill="url(#gg)" stroke="#fff" stroke-width="2.8"/><circle cx="1010.2" cy="520.2" r="7.8" fill="url(#gg)" stroke="#fff" stroke-width="2.8"/><circle cx="1014.3" cy="527.8" r="7.8" fill="url(#gg)" stroke="#fff" stroke-width="2.8"/><circle cx="1018.4" cy="525.9" r="7.8" fill="url(#gg)" stroke="#fff" stroke-width="2.8"/><circle cx="1022.6" cy="520.2" r="7.8" fill="url(#gg)" stroke="#fff" stroke-width="2.8"/><circle cx="1026.7" cy="512.5" r="7.8" fill="url(#gg)" stroke="#fff" stroke-width="2.8"/><circle cx="1030.9" cy="499.2" r="7.8" fill="url(#gg)" stroke="#fff" stroke-width="2.8"/><circle cx="1035.0" cy="506.6" r="7.8" fill="url(#gg)" stroke="#fff" stroke-width="2.8"/><circle cx="1039.1" cy="514.3" r="7.8" fill="url(#gg)" stroke="#fff" stroke-width="2.8"/><circle cx="1043.3" cy="533.2" r="7.8" fill="url(#gg)" stroke="#fff" stroke-width="2.8"/><circle cx="1047.4" cy="522.7" r="7.8" fill="url(#gg)" stroke="#fff" stroke-width="2.8"/><circle cx="1055.7" cy="501.0" r="7.8" fill="url(#gg)" stroke="#fff" stroke-width="2.8"/><circle cx="1059.8" cy="509.4" r="7.8" fill="url(#gg)" stroke="#fff" stroke-width="2.8"/><circle cx="1063.9" cy="510.6" r="7.8" fill="url(#gg)" stroke="#fff" stroke-width="2.8"/><circle cx="1068.1" cy="521.5" r="7.8" fill="url(#gg)" stroke="#fff" stroke-width="2.8"/><circle cx="1072.2" cy="536.8" r="7.8" fill="url(#gg)" stroke="#fff" stroke-width="2.8"/><circle cx="1076.4" cy="512.2" r="7.8" fill="url(#gg)" stroke="#fff" stroke-width="2.8"/><circle cx="1080.5" cy="533.5" r="7.8" fill="url(#gg)" stroke="#fff" stroke-width="2.8"/><circle cx="1084.7" cy="544.0" r="7.8" fill="url(#gg)" stroke="#fff" stroke-width="2.8"/><circle cx="1088.8" cy="526.3" r="7.8" fill="url(#gg)" stroke="#fff" stroke-width="2.8"/><circle cx="1092.9" cy="521.5" r="7.8" fill="url(#gg)" stroke="#fff" stroke-width="2.8"/><circle cx="1097.1" cy="559.3" r="7.8" fill="url(#gg)" stroke="#fff" stroke-width="2.8"/><circle cx="1101.2" cy="517.8" r="7.8" fill="url(#gg)" stroke="#fff" stroke-width="2.8"/><circle cx="1105.4" cy="531.9" r="7.8" fill="url(#gg)" stroke="#fff" stroke-width="2.8"/><circle cx="1109.5" cy="549.6" r="7.8" fill="url(#gg)" stroke="#fff" stroke-width="2.8"/><circle cx="1113.7" cy="543.2" r="7.8" fill="url(#gg)" stroke="#fff" stroke-width="2.8"/><circle cx="1117.8" cy="540.0" r="7.8" fill="url(#gg)" stroke="#fff" stroke-width="2.8"/><circle cx="1122.0" cy="533.5" r="7.8" fill="url(#gg)" stroke="#fff" stroke-width="2.8"/><circle cx="1126.1" cy="558.5" r="7.8" fill="url(#gg)" stroke="#fff" stroke-width="2.8"/><circle cx="1130.3" cy="530.3" r="7.8" fill="url(#gg)" stroke="#fff" stroke-width="2.8"/><circle cx="1134.4" cy="537.6" r="7.8" fill="url(#gg)" stroke="#fff" stroke-width="2.8"/><circle cx="1138.6" cy="543.2" r="7.8" fill="url(#gg)" stroke="#fff" stroke-width="2.8"/><path d="M95.5,530.8 H209.7 V9.4 M209.7,9.4 L289.6,444.2 M209.7,530.8 L289.6,618" fill="none" stroke="#231f20" stroke-width="2"/><rect x="95.5" y="9.4" width="1053.0" height="624.6" fill="none" stroke="#231f20" stroke-width="2.2"/><path d="M260.1,634 v-16 M260.1,9.4 v16 M424.7,634 v-16 M424.7,9.4 v16 M589.3,634 v-16 M589.3,9.4 v16 M753.9,634 v-16 M753.9,9.4 v16 M918.5,634 v-16 M918.5,9.4 v16 M1083.1,634 v-16 M1083.1,9.4 v16 M95.5,529.9 h16 M1148.5,529.9 h-16 M95.5,425.8 h16 M1148.5,425.8 h-16 M95.5,321.7 h16 M1148.5,321.7 h-16 M95.5,217.6 h16 M1148.5,217.6 h-16 M95.5,113.5 h16 M1148.5,113.5 h-16" stroke="#231f20" stroke-width="2.2" fill="none"/><path d="M1004.6,393.9 L1018.2,407.3 M1018.2,393.9 L1004.6,407.3 M1005,573.6 L1018.2,586.4 M1018.2,573.6 L1005,586.4" stroke="#231f20" stroke-width="2.3" fill="none"/><g font-family="Liberation Sans, sans-serif" font-size="29.5" fill="#231f20" stroke="#231f20" stroke-width="0.3"><text x="97.5" y="681.5" text-anchor="middle" font-size="30">0</text><text x="262.1" y="681.5" text-anchor="middle" font-size="30">20</text><text x="426.7" y="681.5" text-anchor="middle" font-size="30">40</text><text x="591.3" y="681.5" text-anchor="middle" font-size="30">60</text><text x="755.9" y="681.5" text-anchor="middle" font-size="30">80</text><text x="920.5" y="681.5" text-anchor="middle" font-size="30">100</text><text x="1085.1" y="681.5" text-anchor="middle" font-size="30">120</text><text x="78" y="646.0" text-anchor="end" font-size="30">3</text><text x="78" y="541.9" text-anchor="end" font-size="30">4</text><text x="78" y="437.8" text-anchor="end" font-size="30">5</text><text x="78" y="333.7" text-anchor="end" font-size="30">6</text><text x="78" y="229.6" text-anchor="end" font-size="30">7</text><text x="78" y="125.5" text-anchor="end" font-size="30">8</text><text x="78" y="21.4" text-anchor="end" font-size="30">9</text><text x="614" y="740" text-anchor="middle">Time (min)</text><text transform="translate(24,324) rotate(-90)" text-anchor="middle">Harmonic yield (a.u.)</text><text x="785" y="268.5" text-anchor="middle">H4</text><text x="781.5" y="572.5" text-anchor="middle">H6</text><text x="1018.5" y="408" text-anchor="start">1</text><text x="1019.6" y="587.5" text-anchor="start">4</text><text x="109.7" y="57.6" text-anchor="middle">I</text><text x="152.8" y="57.6" text-anchor="middle">II</text></g><rect x="289.6" y="444.2" width="262.4" height="173.8" fill="#fff"/><rect x="289.6" y="444.2" width="65.4" height="173.8" fill="#f7d8e8"/><rect x="355.0" y="444.2" width="140.8" height="173.8" fill="#f7f2eb"/><path d="M355.2,525.6 L355.2,525.1 L355.3,524.3 L355.4,523.4 L355.4,522.4 L355.5,521.5 L355.6,520.6 L355.7,519.9 L355.8,519.2 L355.8,518.5 L356.0,517.8 L356.2,517.0 L356.6,516.2 L357.1,515.1 L357.8,514.0 L358.5,512.8 L359.4,511.6 L360.3,510.4 L361.1,509.3 L361.9,508.2 L362.7,507.2 L363.4,506.2 L364.3,505.2 L365.3,504.2 L366.6,503.2 L368.0,502.3 L369.7,501.3 L371.5,500.4 L373.5,499.4 L375.5,498.3 L377.5,497.2 L379.6,496.0 L381.6,494.7 L383.8,493.4 L386.1,492.1 L388.5,490.6 L391.2,489.2 L394.1,487.6 L397.4,485.8 L400.8,484.0 L404.2,482.3 L407.5,480.7 L410.5,479.3 L413.2,478.2 L415.5,477.4 L417.6,476.7 L419.9,476.0 L422.5,475.3 L425.6,474.4 L429.2,473.2 L433.4,471.9 L437.8,470.6 L442.4,469.2 L447.0,467.8 L451.5,466.5 L455.9,465.3 L460.3,464.0 L464.7,462.7 L469.2,461.5 L473.9,460.5 L478.9,459.6 L484.5,459.0 L490.9,458.5 L497.4,458.1 L503.6,457.8 L508.8,457.6 L512.6,457.4 L525.3,457.3 L539.0,457.2 L552.6,457.4" fill="none" stroke="#111" stroke-width="4" stroke-linejoin="round"/><circle cx="295.2" cy="575.1" r="7.8" fill="url(#gr)" stroke="#fff" stroke-width="2.8"/><circle cx="303.7" cy="546.2" r="7.8" fill="url(#gr)" stroke="#fff" stroke-width="2.8"/><circle cx="312.1" cy="531.7" r="7.8" fill="url(#gr)" stroke="#fff" stroke-width="2.8"/><circle cx="320.6" cy="528.1" r="7.8" fill="url(#gr)" stroke="#fff" stroke-width="2.8"/><circle cx="330.2" cy="530.5" r="7.8" fill="url(#gr)" stroke="#fff" stroke-width="2.8"/><circle cx="338.7" cy="534.1" r="7.8" fill="url(#gr)" stroke="#fff" stroke-width="2.8"/><circle cx="348.3" cy="526.9" r="7.8" fill="url(#gr)" stroke="#fff" stroke-width="2.8"/><circle cx="358.0" cy="512.4" r="7.8" fill="url(#gr)" stroke="#fff" stroke-width="2.8"/><circle cx="368.8" cy="494.3" r="7.8" fill="url(#gr)" stroke="#fff" stroke-width="2.8"/><circle cx="378.5" cy="493.1" r="7.8" fill="url(#gr)" stroke="#fff" stroke-width="2.8"/><circle cx="388.1" cy="478.6" r="7.8" fill="url(#gr)" stroke="#fff" stroke-width="2.8"/><circle cx="397.8" cy="490.7" r="7.8" fill="url(#gr)" stroke="#fff" stroke-width="2.8"/><circle cx="406.2" cy="476.2" r="7.8" fill="url(#gr)" stroke="#fff" stroke-width="2.8"/><circle cx="414.7" cy="471.4" r="7.8" fill="url(#gr)" stroke="#fff" stroke-width="2.8"/><circle cx="424.1" cy="468.9" r="7.8" fill="url(#gr)" stroke="#fff" stroke-width="2.8"/><circle cx="433.8" cy="468.5" r="7.8" fill="url(#gr)" stroke="#fff" stroke-width="2.8"/><circle cx="443.4" cy="464.1" r="7.8" fill="url(#gr)" stroke="#fff" stroke-width="2.8"/><circle cx="453.0" cy="459.3" r="7.8" fill="url(#gr)" stroke="#fff" stroke-width="2.8"/><circle cx="461.5" cy="462.9" r="7.8" fill="url(#gr)" stroke="#fff" stroke-width="2.8"/><circle cx="472.3" cy="462.2" r="7.8" fill="url(#gr)" stroke="#fff" stroke-width="2.8"/><circle cx="482.0" cy="475.0" r="7.8" fill="url(#gr)" stroke="#fff" stroke-width="2.8"/><circle cx="490.4" cy="461.7" r="7.8" fill="url(#gr)" stroke="#fff" stroke-width="2.8"/><circle cx="500.1" cy="466.5" r="7.8" fill="url(#gr)" stroke="#fff" stroke-width="2.8"/><circle cx="508.5" cy="462.9" r="7.8" fill="url(#gr)" stroke="#fff" stroke-width="2.8"/><circle cx="518.2" cy="459.3" r="7.8" fill="url(#gr)" stroke="#fff" stroke-width="2.8"/><circle cx="527.8" cy="454.0" r="7.8" fill="url(#gr)" stroke="#fff" stroke-width="2.8"/><circle cx="537.4" cy="460.5" r="7.8" fill="url(#gr)" stroke="#fff" stroke-width="2.8"/><circle cx="547.1" cy="460.5" r="7.8" fill="url(#gr)" stroke="#fff" stroke-width="2.8"/><circle cx="295.2" cy="586.0" r="7.8" fill="url(#gg)" stroke="#fff" stroke-width="2.8"/><circle cx="302.5" cy="563.1" r="7.8" fill="url(#gg)" stroke="#fff" stroke-width="2.8"/><circle cx="310.9" cy="559.4" r="7.8" fill="url(#gg)" stroke="#fff" stroke-width="2.8"/><circle cx="320.6" cy="555.8" r="7.8" fill="url(#gg)" stroke="#fff" stroke-width="2.8"/><circle cx="330.2" cy="558.2" r="7.8" fill="url(#gg)" stroke="#fff" stroke-width="2.8"/><circle cx="339.9" cy="552.2" r="7.8" fill="url(#gg)" stroke="#fff" stroke-width="2.8"/><circle cx="350.7" cy="545.0" r="7.8" fill="url(#gg)" stroke="#fff" stroke-width="2.8"/><circle cx="360.4" cy="528.1" r="7.8" fill="url(#gg)" stroke="#fff" stroke-width="2.8"/><circle cx="367.6" cy="514.8" r="7.8" fill="url(#gg)" stroke="#fff" stroke-width="2.8"/><circle cx="378.5" cy="518.4" r="7.8" fill="url(#gg)" stroke="#fff" stroke-width="2.8"/><circle cx="388.1" cy="505.2" r="7.8" fill="url(#gg)" stroke="#fff" stroke-width="2.8"/><circle cx="397.8" cy="520.8" r="7.8" fill="url(#gg)" stroke="#fff" stroke-width="2.8"/><circle cx="406.2" cy="505.2" r="7.8" fill="url(#gg)" stroke="#fff" stroke-width="2.8"/><circle cx="414.7" cy="508.8" r="7.8" fill="url(#gg)" stroke="#fff" stroke-width="2.8"/><circle cx="424.1" cy="503.9" r="7.8" fill="url(#gg)" stroke="#fff" stroke-width="2.8"/><circle cx="435.0" cy="508.7" r="7.8" fill="url(#gg)" stroke="#fff" stroke-width="2.8"/><circle cx="443.4" cy="497.9" r="7.8" fill="url(#gg)" stroke="#fff" stroke-width="2.8"/><circle cx="453.0" cy="495.0" r="7.8" fill="url(#gg)" stroke="#fff" stroke-width="2.8"/><circle cx="462.7" cy="502.2" r="7.8" fill="url(#gg)" stroke="#fff" stroke-width="2.8"/><circle cx="472.3" cy="508.0" r="7.8" fill="url(#gg)" stroke="#fff" stroke-width="2.8"/><circle cx="482.0" cy="518.4" r="7.8" fill="url(#gg)" stroke="#fff" stroke-width="2.8"/><circle cx="491.6" cy="509.9" r="7.8" fill="url(#gg)" stroke="#fff" stroke-width="2.8"/><circle cx="500.8" cy="517.6" r="7.8" fill="url(#gg)" stroke="#fff" stroke-width="2.8"/><circle cx="509.7" cy="501.5" r="7.8" fill="url(#gg)" stroke="#fff" stroke-width="2.8"/><circle cx="518.2" cy="499.1" r="7.8" fill="url(#gg)" stroke="#fff" stroke-width="2.8"/><circle cx="527.8" cy="503.9" r="7.8" fill="url(#gg)" stroke="#fff" stroke-width="2.8"/><circle cx="537.4" cy="502.2" r="7.8" fill="url(#gg)" stroke="#fff" stroke-width="2.8"/><circle cx="547.1" cy="495.9" r="7.8" fill="url(#gg)" stroke="#fff" stroke-width="2.8"/><rect x="289.6" y="444.2" width="262.4" height="173.8" fill="none" stroke="#231f20" stroke-width="2"/><path d="M383.3,618 v-6 M383.3,444.2 v6 M477.0,618 v-6 M477.0,444.2 v6 M289.6,589.0 h6 M552,589.0 h-6 M289.6,531.1 h6 M552,531.1 h-6 M289.6,473.2 h6 M552,473.2 h-6" stroke="#231f20" stroke-width="2" fill="none"/><g font-family="Liberation Sans, sans-serif" fill="#231f20" stroke="#231f20" stroke-width="0.25"><text x="289.6" y="439.6" text-anchor="middle" font-size="26">0</text><text x="383.3" y="439.6" text-anchor="middle" font-size="26">5</text><text x="477.0" y="439.6" text-anchor="middle" font-size="26">10</text><text x="270" y="600.5" text-anchor="end" font-size="26">4</text><text x="270" y="542.6" text-anchor="end" font-size="26">6</text><text x="270" y="484.7" text-anchor="end" font-size="26">8</text><text x="320" y="498" text-anchor="middle" font-size="29">I</text><text x="429" y="595.6" text-anchor="middle" font-size="29">II</text></g>
</svg>
</body></html>
